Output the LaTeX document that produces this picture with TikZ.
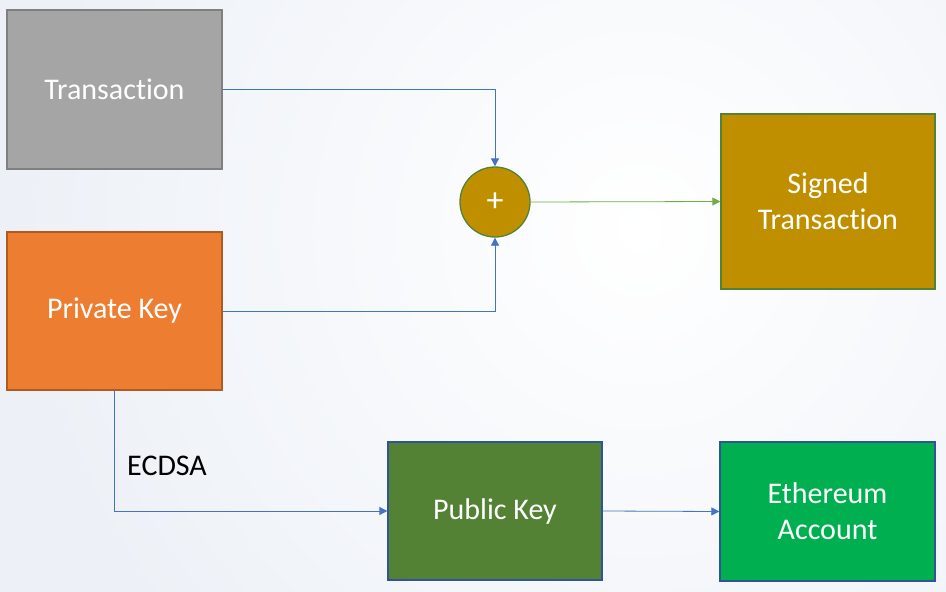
\documentclass[tikz,border=0pt]{standalone}
\usepackage{fontspec}
\setmainfont[Ligatures={NoCommon}]{Carlito}
\usetikzlibrary{arrows.meta}
\definecolor{bgc}{HTML}{EDF1F7}
\definecolor{grayf}{HTML}{A5A5A5}
\definecolor{grayd}{HTML}{7F7F7F}
\definecolor{orangef}{HTML}{ED7D31}
\definecolor{oranged}{HTML}{AE5A21}
\definecolor{goldf}{HTML}{BF8F00}
\definecolor{greend}{HTML}{548235}
\definecolor{brightg}{HTML}{00B050}
\definecolor{blued}{HTML}{2F5597}
\definecolor{linkb}{HTML}{4472C4}
\definecolor{linkg}{HTML}{70AD47}
\tikzset{
  box/.style={rectangle, inner sep=0pt, line width=1.3pt, text=white, align=center,
    font=\fontsize{30}{36}\selectfont},
  link/.style={line width=0.8pt, linkb, -{Triangle[length=8pt,width=8pt]}},
  glink/.style={line width=0.8pt, linkg, -{Triangle[length=8pt,width=8pt]}},
}
\begin{document}
\begin{tikzpicture}[x=1pt,y=-1pt]
\useasboundingbox (0,0) rectangle (946,592);
\fill[bgc] (0,0) rectangle (946,592);
\begin{scope}
\clip (0,0) rectangle (946,592);
\shade[inner color=white, outer color=bgc] (640,230) circle (620);
\end{scope}
\node[box, fill=grayf, draw=grayd, minimum width=215pt, minimum height=159pt] (t) at (114.5,89.5) {Transaction};
\node[box, fill=orangef, draw=oranged, minimum width=215pt, minimum height=158pt] (p) at (114.5,311) {Private Key};
\node[circle, inner sep=0pt, minimum size=70pt, fill=goldf, draw=greend, line width=1.3pt, text=white, font=\fontsize{34}{36}\selectfont] (c) at (495,202) {+};
\node[box, fill=goldf, draw=greend, minimum width=214pt, minimum height=175pt] (s) at (828,201.5) {Signed\\Transaction};
\node[box, fill=greend, draw=blued, minimum width=214pt, minimum height=138pt] (pub) at (495,511) {Public Key};
\node[box, fill=brightg, draw=blued, minimum width=215pt, minimum height=139pt] (e) at (827.5,511.5) {Ethereum\\Account};
\node[anchor=west, inner sep=0pt, font=\fontsize{30}{34}\selectfont] (ecdsa) at (127,466) {ECDSA};
\draw[link] (t.east) -| (c.north);
\draw[link] (p.east) -| (c.south);
\draw[glink] (c.east) -- (s.west);
\draw[link] (p.south) |- (pub.west);
\draw[link] (pub.east) -- (e.west);
\end{tikzpicture}
\end{document}
